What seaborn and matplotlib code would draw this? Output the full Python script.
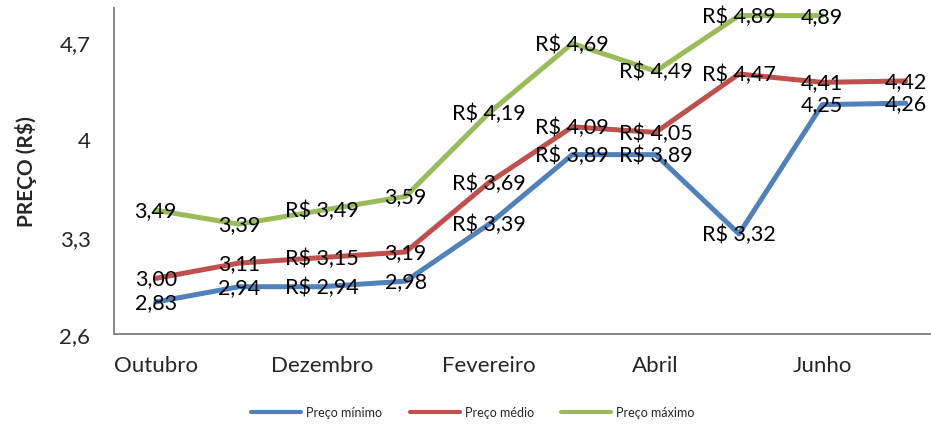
import numpy as np
import pandas as pd
import matplotlib
matplotlib.use('Agg')
import matplotlib.pyplot as plt
import seaborn as sns

# Dados (preços em R$)
meses = ['Outubro', 'Novembro', 'Dezembro', 'Janeiro', 'Fevereiro',
         'Março', 'Abril', 'Maio', 'Junho', 'Julho']
preco_minimo = [2.83, 2.94, 2.94, 2.98, 3.39, 3.89, 3.89, 3.32, 4.25, 4.26]
preco_medio = [3.00, 3.11, 3.15, 3.19, 3.69, 4.09, 4.05, 4.47, 4.41, 4.42]
preco_maximo = [3.49, 3.39, 3.49, 3.59, 4.19, 4.69, 4.49, 4.89, 4.89, np.nan]
# rótulos com "R$" na frente
com_moeda = [False, False, True, False, True, True, True, True, False, False]

series = ['Preço mínimo', 'Preço médio', 'Preço máximo']
cores = ['#4F81BD', '#C0504D', '#9BBB59']
yticks = [2.6, 3.3, 4.0, 4.7]
ytick_labels = ['2,6', '3,3', '4', '4,7']

df = pd.DataFrame({
    'pos': list(range(len(meses))) * 3,
    'preco': preco_minimo + preco_medio + preco_maximo,
    'serie': np.repeat(series, len(meses)),
})

sns.set_style('white')
plt.rcParams['font.family'] = ['Lato', 'DejaVu Sans']

fig = plt.figure(figsize=(9.31, 4.27), dpi=100)
ax = fig.add_axes([0.1225, 0.2155, 0.895, 0.7635])

sns.lineplot(data=df, x='pos', y='preco', hue='serie', palette=cores,
             hue_order=series, linewidth=3.6, ax=ax, legend=True)

# rótulos de dados centrados nos pontos
for valores in [preco_minimo, preco_medio, preco_maximo]:
    for i, v in enumerate(valores):
        if np.isnan(v):
            continue
        txt = f'{v:.2f}'.replace('.', ',')
        if com_moeda[i]:
            txt = 'R$ ' + txt
        ax.text(i, v, txt, ha='center', va='center', fontsize=15.5, color='black', zorder=5)

ax.set_xlim(-0.5, 9.5)
ax.set_ylim(2.6, 4.945)
ax.set_xticks(range(0, len(meses), 2))
ax.set_xticklabels(meses[::2], fontsize=16)
ax.set_yticks(yticks)
ax.set_yticklabels(ytick_labels, fontsize=16)
ax.tick_params(axis='x', length=0, pad=15)
ax.tick_params(axis='y', length=0, pad=17)
ax.set_xlabel('')
ax.set_ylabel('PREÇO (R$)', fontsize=15, fontweight='bold', labelpad=16)

for s in ['top', 'right']:
    ax.spines[s].set_visible(False)
for s in ['left', 'bottom']:
    ax.spines[s].set_color('#868686')
    ax.spines[s].set_linewidth(1.4)

handles, labels = ax.get_legend_handles_labels()
for h in handles:
    h.set_linewidth(3)
ax.legend(handles, labels, loc='center', bbox_to_anchor=(0.508, 0.033),
          bbox_transform=fig.transFigure, ncol=3, frameon=False, fontsize=9,
          handlelength=4.0, handletextpad=0.4, columnspacing=2.2)

fig.savefig('out.png', dpi=100)
